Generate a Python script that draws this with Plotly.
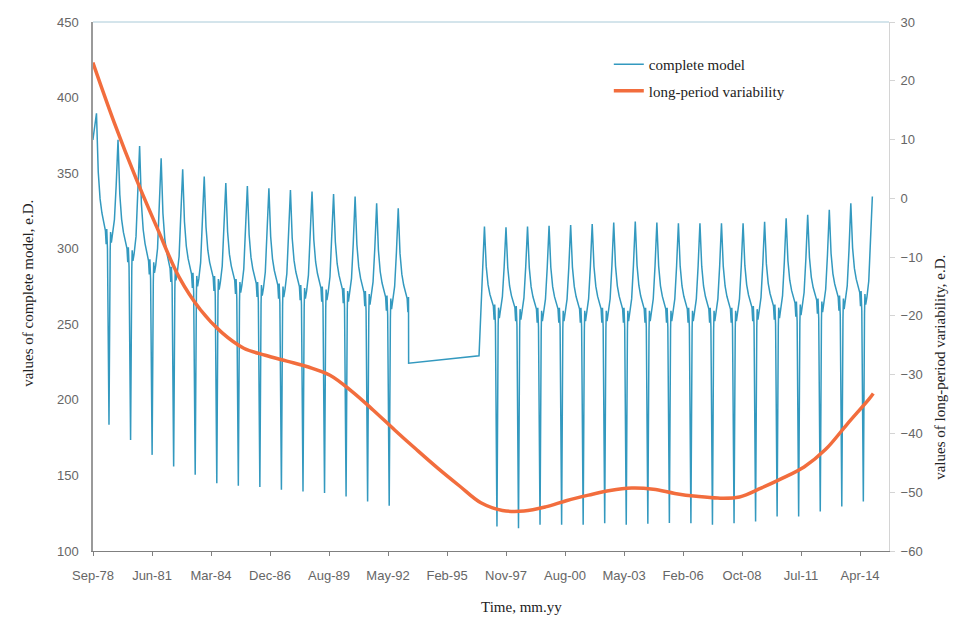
import datetime as dt
import plotly.graph_objects as go

# ---------------- complete model (left axis), values read per annual cycle ----------------
# first segment (1978 - spring 1993)
PEAK_YEARS_A = list(range(1978, 1993))            # peaks in November
PEAKS_A = [389.6, 372.0, 368.0, 359.9, 352.6, 347.7, 343.4, 341.5,
           340.0, 338.9, 337.8, 336.2, 334.5, 330.0, 326.8]
TROUGH_YEARS_A = list(range(1979, 1993))          # troughs in June
TROUGHS_A = [183.5, 173.5, 163.6, 155.9, 150.4, 144.9, 143.1,
             142.3, 140.5, 139.4, 138.3, 136.1, 132.7, 129.9]
LEVELS_A = [312, 300, 292, 287, 283, 281, 279, 277, 276, 275,
            274, 273, 271, 268, 267]              # spring level 1979..1993
START_A = [372.0, 380.0]                          # Sep, Oct 1978

GAP_START_VALUE = 224.3                           # May 1993
GAP_END_VALUE = 229.1                             # Aug 1996
RESTART_B = [258.0, 288.0]                        # Sep, Oct 1996

# second segment (autumn 1996 - 2014)
PEAK_YEARS_B = list(range(1996, 2015))
PEAKS_B = [314.6, 314.2, 314.6, 315.1, 315.7, 316.4, 317.3, 318.0, 317.3, 316.9,
           316.9, 316.9, 316.9, 317.9, 320.1, 322.4, 325.7, 330.1, 334.5]
TROUGH_YEARS_B = list(range(1997, 2015))
TROUGHS_B = [116.2, 115.1, 117.3, 117.3, 117.3, 118.4, 117.3, 118.0, 118.5,
             118.4, 117.3, 118.4, 119.5, 122.8, 122.8, 126.1, 129.4, 132.7]
LEVELS_B = [262, 261, 260, 260, 260, 260, 260, 260, 260, 260, 260, 260,
            261, 262, 264, 266, 268, 271]

# shape of one annual cycle
DECAY_FRAC = [0.5, 0.27, 0.15, 0.07]   # Dec..Mar, share of (previous peak - level)
# (month, day, offset from spring level) around the June trough
PRE_TROUGH = [(4, 15, 0), (4, 28, -9), (5, 8, 1), (5, 20, -12)]
POST_TROUGH = [(7, 5, -14), (7, 12, -1), (7, 25, -8), (8, 15, -3)]
RISE_FRAC = [0.12, 0.5]                # Sep, Oct, share of (peak - level)

# ---------------- long-period variability (right axis) ----------------
ORANGE_DATES = [f"{y}-09-15" for y in range(1978, 2015)] + ["2014-12-01"]
ORANGE_VALUES = [23.1, 12.8, 3.4, -5.2, -13.4, -19.0, -22.9, -25.5, -26.7, -27.7,
                 -28.7, -30.1, -32.8, -36.0, -39.4, -42.7, -45.9, -48.9, -51.8, -53.1,
                 -53.2, -52.5, -51.4, -50.5, -49.7, -49.3, -49.5, -50.2, -50.7, -51.0,
                 -50.8, -49.3, -47.6, -45.7, -42.7, -38.4, -34.2, -33.2]

TICK_LABELS = ["Sep-78", "Jun-81", "Mar-84", "Dec-86", "Aug-89", "May-92", "Feb-95",
               "Nov-97", "Aug-00", "May-03", "Feb-06", "Oct-08", "Jul-11", "Apr-14"]
TICK_START = dt.date(1978, 9, 17)
TICK_STEP_DAYS = 1000


dates, vals = [], []


def add(y, m, v, day=15):
    dates.append(f"{y}-{m:02d}-{day:02d}")
    vals.append(v)


def decay(y, p_prev, b):
    add(y - 1, 12, b + DECAY_FRAC[0] * (p_prev - b))
    for k, m in enumerate([1, 2, 3]):
        add(y, m, b + DECAY_FRAC[k + 1] * (p_prev - b))


def cycle(y, p_prev, p, b, t):
    decay(y, p_prev, b)
    for m, dd, off in PRE_TROUGH:
        add(y, m, b + off, dd)
    add(y, 6, t)
    for m, dd, off in POST_TROUGH:
        add(y, m, b + off, dd)
    add(y, 9, b + RISE_FRAC[0] * (p - b))
    add(y, 10, b + RISE_FRAC[1] * (p - b))
    add(y, 11, p)


add(1978, 9, START_A[0])
add(1978, 10, START_A[1])
add(1978, 11, PEAKS_A[0])
for i, y in enumerate(TROUGH_YEARS_A):
    cycle(y, PEAKS_A[i], PEAKS_A[i + 1], LEVELS_A[i], TROUGHS_A[i])
b93 = LEVELS_A[-1]
decay(1993, PEAKS_A[-1], b93)
for m, dd, off in PRE_TROUGH[:3]:
    add(1993, m, b93 + off, dd)
add(1993, 5, GAP_START_VALUE, 10)
add(1996, 8, GAP_END_VALUE)
add(1996, 9, RESTART_B[0])
add(1996, 10, RESTART_B[1])
add(1996, 11, PEAKS_B[0])
for i, y in enumerate(TROUGH_YEARS_B):
    cycle(y, PEAKS_B[i], PEAKS_B[i + 1], LEVELS_B[i], TROUGHS_B[i])

tickvals = [(TICK_START + dt.timedelta(days=TICK_STEP_DAYS * k)).isoformat()
            for k in range(len(TICK_LABELS))]
x_start = TICK_START.isoformat()
x_end = (TICK_START + dt.timedelta(days=13490)).isoformat()

fig = go.Figure()
fig.add_trace(go.Scatter(x=dates, y=vals, mode="lines", name="complete model",
                         line=dict(color="#3399bf", width=1.5), yaxis="y",
                         legendgroup="a"))
fig.add_trace(go.Scatter(x=ORANGE_DATES, y=ORANGE_VALUES, mode="lines",
                         name="long-period variability",
                         line=dict(color="#f26d3d", width=3.5, shape="spline", smoothing=1.0),
                         yaxis="y2", legendgroup="b"))

tickfont = dict(family="Liberation Sans", size=13, color="#666666")
serif = dict(family="Liberation Serif", size=15, color="#222222")

fig.update_layout(
    width=959, height=630,
    margin=dict(l=85, r=78, t=14, b=87),
    paper_bgcolor="white", plot_bgcolor="white",
    showlegend=True,
    legend=dict(x=0.648, y=0.951, xanchor="left", yanchor="top", font=serif,
                bgcolor="rgba(0,0,0,0)", tracegroupgap=4, traceorder="grouped"),
    xaxis=dict(type="date", range=[x_start, x_end], tickvals=tickvals,
               ticktext=TICK_LABELS, showgrid=False, zeroline=False, automargin=False,
               showline=True, linecolor="#808080", linewidth=1,
               ticks="outside", ticklen=4, tickcolor="#808080", tickfont=tickfont,
               ticklabelstandoff=8),
    yaxis=dict(range=[100, 450], dtick=50, showgrid=False, zeroline=False,
               automargin=False,
               showline=True, linecolor="#9a9a9a", linewidth=1.5,
               ticks="", tickfont=tickfont, ticklabelstandoff=10),
    yaxis2=dict(range=[-60, 30], dtick=10, overlaying="y", side="right",
                automargin=False,
                showgrid=False, zeroline=False, showline=True, linecolor="#d4d4d4",
                ticks="outside", ticklen=5, tickcolor="#d4d4d4", tickfont=tickfont,
                ticklabelstandoff=3),
    shapes=[dict(type="line", xref="paper", yref="paper", x0=0, x1=1, y0=1, y1=1,
                 line=dict(color="#a9cad8", width=1))],
    annotations=[
        dict(text="values of complete model, e.D.", xref="paper", yref="paper",
             x=-0.0817, y=0.488, textangle=-90, showarrow=False, font=serif,
             xanchor="center", yanchor="middle"),
        dict(text="values of long-period variability, e.D.", xref="paper", yref="paper",
             x=1.064, y=0.348, textangle=-90, showarrow=False, font=serif,
             xanchor="center", yanchor="middle"),
        dict(text="Time, mm.yy", xref="paper", yref="paper",
             x=0.538, y=-0.106, showarrow=False, font=serif,
             xanchor="center", yanchor="middle"),
    ],
)

fig.write_html("out.html")
